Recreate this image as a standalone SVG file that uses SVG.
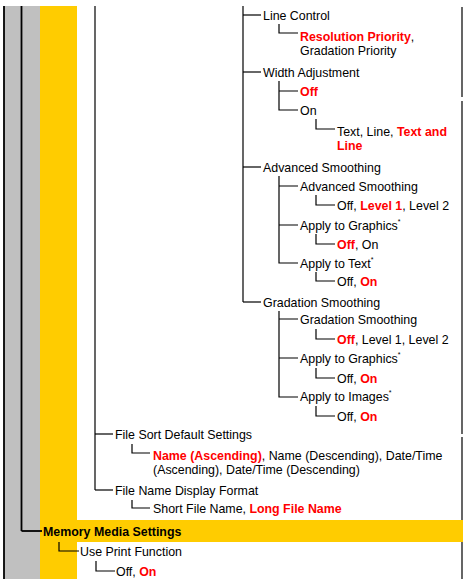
<svg xmlns="http://www.w3.org/2000/svg" width="463" height="579" viewBox="0 0 463 579">
<style>
.t{font-family:"Liberation Sans",Arial,sans-serif;font-size:12.4px;fill:#000}
.r{fill:#ff0000;font-weight:bold}
.b{font-weight:bold}
.s{font-size:7px}
.c{stroke:#000;stroke-width:1.2;fill:none}
.frame{stroke:#000;stroke-width:1.8;fill:none}
</style>
<g id="background">
<rect x="0" y="0" width="463" height="579" fill="#ffffff"/>
<rect x="4" y="6" width="36" height="573" fill="#c0c0c0"/>
<rect x="40" y="6" width="37" height="573" fill="#ffcc00"/>
<rect x="40" y="520" width="423" height="22" fill="#ffcc00"/>
<path class="frame" d="M4,6 V579"/>
<path class="frame" d="M21.5,6 V531"/>
<path d="M462,7 V97 M462,101 V434 M462,437 V520 M462,542 V579" stroke="#000" stroke-width="1.2" fill="none"/>
</g>
<g id="connectors">
<path class="c" d="M95,6 V490"/>
<path class="c" d="M95,434 H113"/>
<path class="c" d="M95,490 H113"/>
<path class="c" d="M132,444 V453 H150"/>
<path class="c" d="M132,500 V508 H150"/>
<path class="c" d="M243,6 V302"/>
<path class="c" d="M243,15 H261"/>
<path class="c" d="M243,72 H261"/>
<path class="c" d="M243,167 H261"/>
<path class="c" d="M243,302 H261"/>
<path class="c" d="M279,24 V33 H298"/>
<path class="c" d="M279,81 V110 H298 M279,91 H298"/>
<path class="c" d="M316,119 V129 H335"/>
<path class="c" d="M279,176 V263 H298 M279,186 H298 M279,225 H298"/>
<path class="c" d="M316,195 V205 H335"/>
<path class="c" d="M316,234 V244 H335"/>
<path class="c" d="M316,272 V281 H335"/>
<path class="c" d="M279,311 V397 H298 M279,319 H298 M279,358 H298"/>
<path class="c" d="M316,329 V339 H335"/>
<path class="c" d="M316,368 V378 H335"/>
<path class="c" d="M316,406 V416 H335"/>
<path class="frame" d="M21.5,531 H42"/>
<path class="c" d="M59,542 V551 H79"/>
<path class="c" d="M96,561 V571 H115"/>
</g>
<g id="line-control"><text class="t" x="263" y="19.5">Line Control</text></g>
<g id="line-control-options"><text class="t" x="300" y="40.5"><tspan class="r">Resolution Priority</tspan>,</text><text class="t" x="300" y="54.5">Gradation Priority</text></g>
<g id="width-adjustment"><text class="t" x="263" y="76.5">Width Adjustment</text></g>
<g id="width-off"><text class="t r" x="300" y="95.5">Off</text></g>
<g id="width-on"><text class="t" x="300" y="114.5">On</text></g>
<g id="width-on-options"><text class="t" x="337" y="136">Text, Line, <tspan class="r">Text and</tspan></text><text class="t r" x="337" y="150">Line</text></g>
<g id="advanced-smoothing"><text class="t" x="263" y="171.5">Advanced Smoothing</text></g>
<g id="adv-smoothing"><text class="t" x="300" y="190.5">Advanced Smoothing</text></g>
<g id="adv-smoothing-options"><text class="t" x="337" y="209.5">Off, <tspan class="r">Level 1</tspan>, Level 2</text></g>
<g id="adv-graphics"><text class="t" x="300" y="229.5">Apply to Graphics<tspan class="s" dy="-6">*</tspan></text></g>
<g id="adv-graphics-options"><text class="t" x="337" y="248.5"><tspan class="r">Off</tspan>, On</text></g>
<g id="adv-text"><text class="t" x="300" y="267.5">Apply to Text<tspan class="s" dy="-6">*</tspan></text></g>
<g id="adv-text-options"><text class="t" x="337" y="285.5">Off, <tspan class="r">On</tspan></text></g>
<g id="gradation-smoothing"><text class="t" x="263" y="306.5">Gradation Smoothing</text></g>
<g id="grad-smoothing"><text class="t" x="300" y="323.5">Gradation Smoothing</text></g>
<g id="grad-smoothing-options"><text class="t" x="337" y="343.5"><tspan class="r">Off</tspan>, Level 1, Level 2</text></g>
<g id="grad-graphics"><text class="t" x="300" y="362.5">Apply to Graphics<tspan class="s" dy="-6">*</tspan></text></g>
<g id="grad-graphics-options"><text class="t" x="337" y="382.5">Off, <tspan class="r">On</tspan></text></g>
<g id="grad-images"><text class="t" x="300" y="401">Apply to Images<tspan class="s" dy="-6">*</tspan></text></g>
<g id="grad-images-options"><text class="t" x="337" y="420.5">Off, <tspan class="r">On</tspan></text></g>
<g id="file-sort"><text class="t" x="115" y="438.5">File Sort Default Settings</text></g>
<g id="file-sort-options"><text class="t" x="153" y="459.5"><tspan class="r">Name (Ascending)</tspan>, Name (Descending), Date/Time</text><text class="t" x="153" y="473.5">(Ascending), Date/Time (Descending)</text></g>
<g id="file-name-display"><text class="t" x="115" y="494.5">File Name Display Format</text></g>
<g id="file-name-display-options"><text class="t" x="153" y="512.5">Short File Name, <tspan class="r">Long File Name</tspan></text></g>
<g id="memory-media"><text class="t b" x="43" y="536">Memory Media Settings</text></g>
<g id="use-print"><text class="t" x="80" y="555.5">Use Print Function</text></g>
<g id="use-print-options"><text class="t" x="116" y="575.5">Off, <tspan class="r">On</tspan></text></g>
</svg>
